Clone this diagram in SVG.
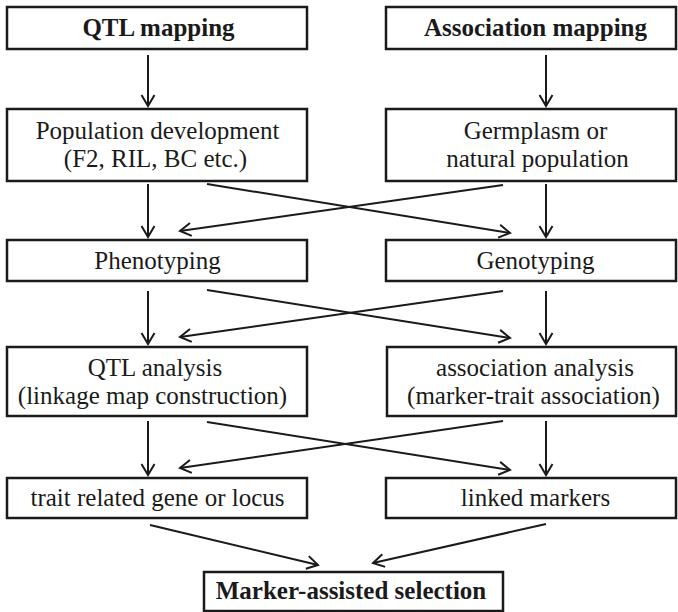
<svg xmlns="http://www.w3.org/2000/svg" width="678" height="612" viewBox="0 0 678 612">
<defs>
<marker id="ah" markerUnits="userSpaceOnUse" markerWidth="14" markerHeight="16" viewBox="0 0 14 16" refX="12" refY="8" orient="auto">
<path d="M1,1.5 L12,8 L1,14.5" fill="none" stroke="#1a1a1a" stroke-width="2"/>
</marker>
<style>
.box{fill:#fff;stroke:#1a1a1a;stroke-width:2.5}
.t{font-family:'Liberation Serif',serif;font-size:25px;fill:#1a1a1a;text-anchor:middle}
.b{font-weight:bold}
.c{stroke:#1a1a1a;stroke-width:2;fill:none;marker-end:url(#ah)}
</style>
</defs>
<rect width="678" height="612" fill="#fff"/>
<g id="connectors">
<line class="c" x1="148" y1="55" x2="148" y2="106"/>
<line class="c" x1="546" y1="55" x2="546" y2="106"/>
<line class="c" x1="148" y1="184" x2="148" y2="237"/>
<line class="c" x1="546" y1="184" x2="546" y2="237"/>
<line class="c" x1="207" y1="184" x2="510" y2="233"/>
<line class="c" x1="503" y1="185" x2="180" y2="231"/>
<line class="c" x1="148" y1="291" x2="148" y2="344"/>
<line class="c" x1="546" y1="291" x2="546" y2="344"/>
<line class="c" x1="207" y1="290" x2="510" y2="338"/>
<line class="c" x1="503" y1="291" x2="180" y2="337"/>
<line class="c" x1="148" y1="421" x2="148" y2="475"/>
<line class="c" x1="546" y1="421" x2="546" y2="475"/>
<line class="c" x1="207" y1="422" x2="510" y2="470"/>
<line class="c" x1="503" y1="421" x2="180" y2="468"/>
<line class="c" x1="150" y1="525" x2="318" y2="565"/>
<line class="c" x1="546" y1="524" x2="373" y2="563"/>
</g>
<g id="qtl-mapping">
<rect class="box" x="7" y="7" width="300" height="42"/>
<text class="t b" x="158.5" y="36">QTL mapping</text>
</g>
<g id="association-mapping">
<rect class="box" x="386" y="7" width="290" height="42"/>
<text class="t b" x="535.5" y="36">Association mapping</text>
</g>
<g id="population-development">
<rect class="box" x="7" y="109" width="300" height="72"/>
<text class="t" x="157.5" y="139">Population development</text>
<text class="t" x="155.5" y="167">(F2, RIL, BC etc.)</text>
</g>
<g id="germplasm">
<rect class="box" x="386" y="109" width="290" height="72"/>
<text class="t" x="535.5" y="139">Germplasm or</text>
<text class="t" x="537.5" y="167">natural population</text>
</g>
<g id="phenotyping">
<rect class="box" x="7" y="240" width="300" height="41"/>
<text class="t" x="157.5" y="269">Phenotyping</text>
</g>
<g id="genotyping">
<rect class="box" x="386" y="240" width="290" height="41"/>
<text class="t" x="535.5" y="269">Genotyping</text>
</g>
<g id="qtl-analysis">
<rect class="box" x="7" y="347" width="300" height="69"/>
<text class="t" x="155" y="376">QTL analysis</text>
<text class="t" x="152.5" y="404">(linkage map construction)</text>
</g>
<g id="association-analysis">
<rect class="box" x="387" y="347" width="289" height="69"/>
<text class="t" x="535" y="376">association analysis</text>
<text class="t" x="533.5" y="404">(marker-trait association)</text>
</g>
<g id="trait-gene">
<rect class="box" x="7" y="478" width="300" height="40"/>
<text class="t" x="157.5" y="506">trait related gene or locus</text>
</g>
<g id="linked-markers">
<rect class="box" x="386" y="478" width="290" height="40"/>
<text class="t" x="535.5" y="506">linked markers</text>
</g>
<g id="mas">
<rect class="box" x="204" y="572" width="299" height="39"/>
<text class="t b" x="351" y="599">Marker-assisted selection</text>
</g>
</svg>
